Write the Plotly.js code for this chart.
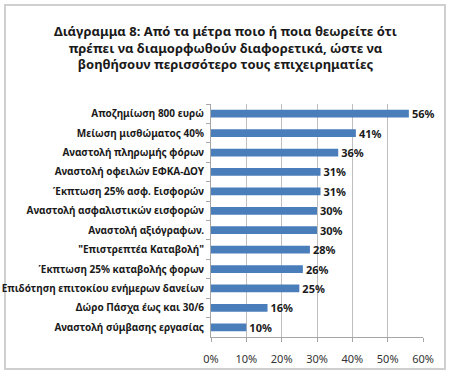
<!DOCTYPE html>
<html>
<head>
<meta charset="utf-8">
<script src="https://cdn.plot.ly/plotly-3.0.1.min.js"></script>
<style>
html,body{margin:0;padding:0;background:#fff;}
#frame{position:absolute;left:4px;top:4px;width:438px;height:362px;border:2px solid #cfcfcf;}
#chart{position:absolute;left:0;top:0;width:451px;height:375px;}
</style>
</head>
<body>
<div id="frame"></div>
<div id="chart"></div>
<script>
const categories = [
  "Αποζημίωση 800 ευρώ",
  "Μείωση μισθώματος 40%",
  "Αναστολή πληρωμής φόρων",
  "Αναστολή οφειλών ΕΦΚΑ-ΔΟΥ",
  "Έκπτωση 25% ασφ. Εισφορών",
  "Αναστολή ασφαλιστικών εισφορών",
  "Αναστολή αξιόγραφων.",
  "\"Επιστρεπτέα Καταβολή\"",
  "Έκπτωση 25% καταβολής φορων",
  "Επιδότηση επιτοκίου ενήμερων δανείων",
  "Δώρο Πάσχα έως και 30/6",
  "Αναστολή σύμβασης εργασίας"
];
const values = [0.56, 0.41, 0.36, 0.31, 0.31, 0.30, 0.30, 0.28, 0.26, 0.25, 0.16, 0.10];
const xTicks = [0, 0.1, 0.2, 0.3, 0.4, 0.5, 0.6];

const font = "Noto Sans, Open Sans, sans-serif";
const trace = {
  type: 'bar',
  orientation: 'h',
  y: categories,
  x: values,
  marker: {color: '#4a7ebb'},
  texttemplate: '%{x:.0%}',
  textposition: 'outside',
  textfont: {family: font, size: 11, color: '#1a1a1a', weight: 'bold'},
  cliponaxis: false,
  constraintext: 'none',
  hoverinfo: 'none'
};
const layout = {
  width: 451, height: 375,
  margin: {l: 211, r: 28, t: 104, b: 38},
  paper_bgcolor: 'rgba(0,0,0,0)',
  plot_bgcolor: 'rgba(0,0,0,0)',
  bargap: 0.6,
  showlegend: false,
  title: {
    text: '<b>Διάγραμμα 8: Από τα μέτρα ποιο ή ποια θεωρείτε ότι<br>πρέπει να διαμορφωθούν διαφορετικά, ώστε να<br>βοηθήσουν περισσότερο τους επιχειρηματίες</b>',
    font: {family: font, size: 13, color: '#1a1a1a'},
    x: 0.5, xanchor: 'center', y: 0.905, yanchor: 'top', yref: 'container'
  },
  xaxis: {
    range: [0, 0.6],
    tickvals: xTicks,
    tickformat: '.0%',
    showgrid: true, gridcolor: '#bfbfbf', gridwidth: 1,
    zeroline: false,
    showline: true, linecolor: '#a6a6a6',
    ticks: 'outside', ticklen: 4, tickcolor: '#a6a6a6',
    tickfont: {family: font, size: 11, color: '#333'},
    ticklabelstandoff: 8,
    fixedrange: true
  },
  yaxis: {
    type: 'category',
    autorange: 'reversed',
    tickson: 'boundaries',
    ticks: 'outside', ticklen: 4, tickcolor: '#a6a6a6',
    showline: true, linecolor: '#a6a6a6',
    showgrid: false,
    tickfont: {family: font, size: 10, color: '#1a1a1a', weight: 'bold'},
    ticklabelstandoff: 4,
    fixedrange: true
  }
};
Plotly.newPlot('chart', [trace], layout, {displayModeBar: false, staticPlot: true});
</script>
</body>
</html>
